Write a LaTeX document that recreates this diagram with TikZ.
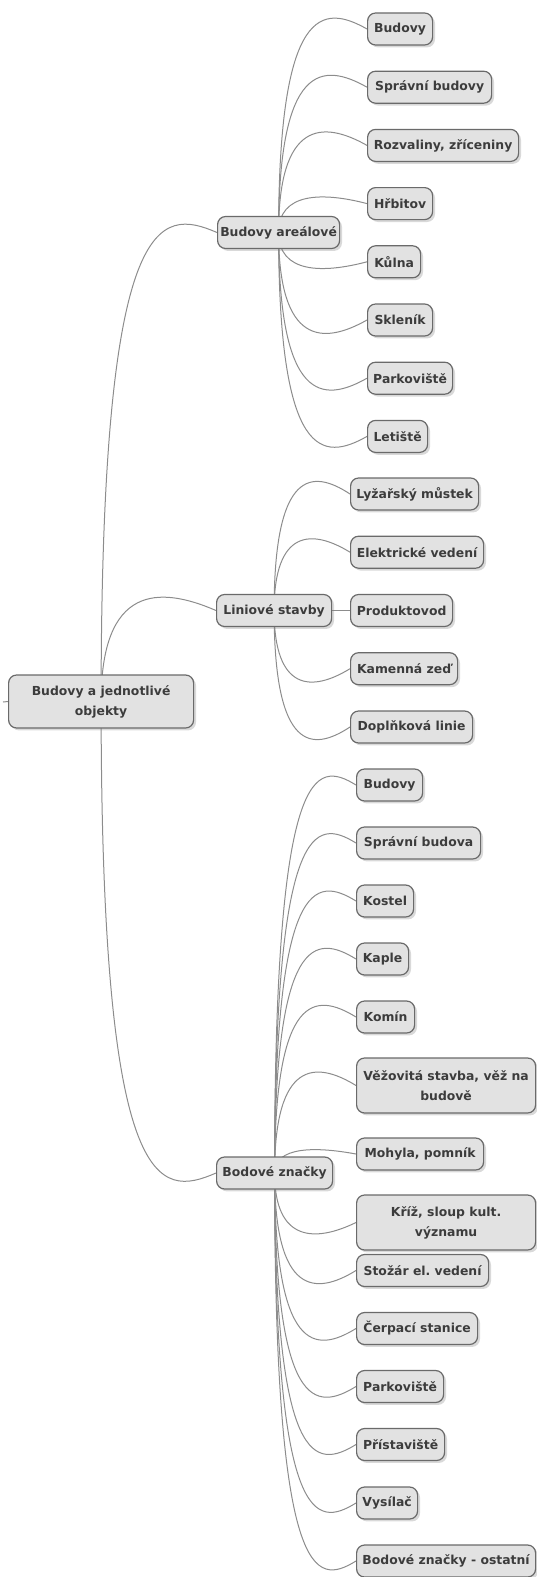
\documentclass[tikz,border=0pt]{standalone}
\usepackage{fontspec}
\newfontfamily\nodefont{DejaVu Sans}
\usetikzlibrary{calc,shadows,backgrounds}
\definecolor{boxfill}{HTML}{E2E2E2}
\definecolor{boxline}{HTML}{6A6A6A}
\definecolor{boxtext}{HTML}{3C3C3C}
\definecolor{linkcol}{HTML}{8C8C8C}
\tikzset{
  box/.style={draw=boxline, fill=boxfill, line width=0.9pt, rounded corners=6pt,
    text=boxtext, font={\nodefont\bfseries\frenchspacing\fontsize{9.3}{15}\selectfont},
    inner xsep=0pt, inner ysep=0pt, minimum height={32*0.75pt}, anchor=west,
    align=center,
    drop shadow={shadow xshift=1.8pt, shadow yshift=-1.8pt, opacity=0.3}},
  w/.style={minimum width={#1*0.75pt}},
  tall/.style={minimum height={#1*0.75pt}},
  conn/.style={draw=linkcol, line width=0.75pt},
}
% curved connector from the centre of a parent to the west side of a child
\newcommand\link[2]{%
  \draw[conn] let \p1=(#1.center), \p2=(#2.west),
    \n1={ifthenelse(\y2>\y1,1,-1)*min(18.75pt,0.4*abs(\y2-\y1))},
    \n2={\y2+\n1}, \n3={(\x1+\x2)/2} in
    (\p1) .. controls (\x1,\n2) and (\n3,\n2) .. (\p2);}
\begin{document}
\begin{tikzpicture}[x=0.75pt,y=-0.75pt]
\useasboundingbox (0,0) rectangle (536,1577);

% root
\node[box, w=185, tall=53] (root) at (8,701.5) {Budovy a jednotlivé\\objekty};
\coordinate (tick) at (3,702);

% first level
\node[box, w=122] (are) at (217,232.5) {Budovy areálové};
\node[box, w=115] (lin) at (216,610.5) {Liniové stavby};
\node[box, w=116] (bod) at (216,1173) {Bodové značky};

% Budovy areálové
\node[box, w=65]  (a1) at (367,29)    {Budovy};
\node[box, w=124] (a2) at (367,87.2)  {Správní budovy};
\node[box, w=151] (a3) at (367,145.4) {Rozvaliny, zříceniny};
\node[box, w=65]  (a4) at (367,203.6) {Hřbitov};
\node[box, w=53]  (a5) at (367,261.8) {Kůlna};
\node[box, w=65]  (a6) at (367,320)   {Skleník};
\node[box, w=85]  (a7) at (367,378.2) {Parkoviště};
\node[box, w=60]  (a8) at (367,436.4) {Letiště};

% Liniové stavby
\node[box, w=128] (l1) at (350,494)   {Lyžařský můstek};
\node[box, w=133] (l2) at (350,552.2) {Elektrické vedení};
\node[box, w=102] (l3) at (350,610.5) {Produktovod};
\node[box, w=107] (l4) at (350,668.7) {Kamenná zeď};
\node[box, w=122] (l5) at (350,727)   {Doplňková linie};

% Bodové značky
\node[box, w=66]  (b1)  at (356,785)    {Budovy};
\node[box, w=124] (b2)  at (356,843)    {Správní budova};
\node[box, w=57]  (b3)  at (356,901)    {Kostel};
\node[box, w=52]  (b4)  at (356,959)    {Kaple};
\node[box, w=58]  (b5)  at (356,1017)   {Komín};
\node[box, w=179, tall=55] (b6)  at (356,1085.5) {Věžovitá stavba, věž na\\budově};
\node[box, w=127] (b7)  at (356,1154)   {Mohyla, pomník};
\node[box, w=179, tall=55] (b8)  at (356,1222.5) {Kříž, sloup kult.\\významu};
\node[box, w=132] (b9)  at (356,1270.5) {Stožár el. vedení};
\node[box, w=121] (b10) at (356,1328.5) {Čerpací stanice};
\node[box, w=87]  (b11) at (356,1386.5) {Parkoviště};
\node[box, w=88]  (b12) at (356,1444.5) {Přístaviště};
\node[box, w=61]  (b13) at (356,1503)   {Vysílač};
\node[box, w=179] (b14) at (356,1561)   {Bodové značky - ostatní};

\begin{scope}[on background layer]
  \draw[conn] (tick) -- (root.west);
  \foreach \c in {are,lin,bod} {\link{root}{\c}}
  \foreach \c in {a1,a2,a3,a4,a5,a6,a7,a8} {\link{are}{\c}}
  \foreach \c in {l1,l2,l3,l4,l5} {\link{lin}{\c}}
  \foreach \c in {b1,b2,b3,b4,b5,b6,b7,b8,b9,b10,b11,b12,b13,b14} {\link{bod}{\c}}
\end{scope}
\end{tikzpicture}
\end{document}
